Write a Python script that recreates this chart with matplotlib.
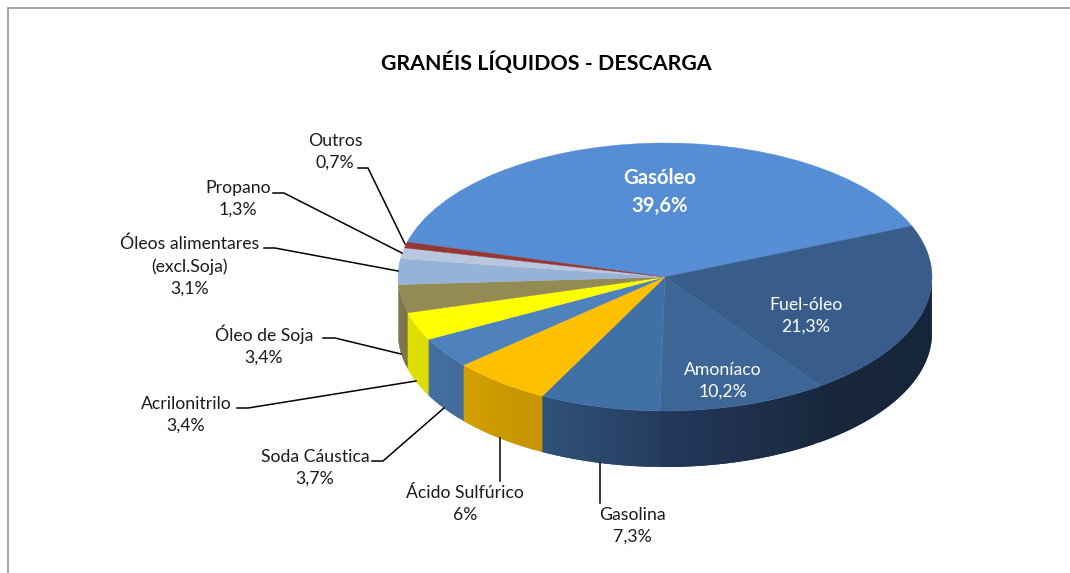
import numpy as np
import matplotlib.pyplot as plt
from matplotlib.colors import to_rgb
from matplotlib.lines import Line2D
from matplotlib.patches import Rectangle

plt.rcParams['font.family'] = ['Lato', 'DejaVu Sans']

# Datos
nombres = ["Gasóleo", "Fuel-óleo", "Amoníaco", "Gasolina", "Ácido Sulfúrico", "Soda Cáustica",
           "Acrilonitrilo", "Óleo de Soja", "Óleos alimentares\n(excl.Soja)", "Propano", "Outros"]
valores = [39.6, 21.3, 10.2, 7.3, 6.0, 3.7, 3.4, 3.4, 3.1, 1.3, 0.7]
textos = ["39,6%", "21,3%", "10,2%", "7,3%", "6%", "3,7%", "3,4%", "3,4%", "3,1%", "1,3%", "0,7%"]

# Colores: tapa y pared (inicio, fin)
tapa = ["#558ed5", "#385d8a", "#3d6596", "#4170a6", "#ffc000", "#4f81bd",
        "#ffff00", "#948a54", "#95b3d7", "#b9c7de", "#953735"]
pared = [("#558ed5", "#558ed5"), ("#17263b", "#16263a"), ("#25385c", "#18283e"), ("#2f5279", "#263c5e"),
         ("#d2a000", "#c49400"), ("#44709f", "#426a9a"), ("#e0e000", "#dcdc00"), ("#857a4c", "#7d7347"),
         ("#95b3d7", "#95b3d7"), ("#b9c7de", "#b9c7de"), ("#953735", "#953735")]

# Geometria en pixeles
W, H = 1070, 573
cx, cy = 665, 277
a, b = 267, 134
prof = 56 / b
inicio = 164.9


def px(x, y):
    return x / W, 1 - y / H


fig = plt.figure(figsize=(W / 100, H / 100), dpi=100)
fig.patch.set_facecolor("white")
ax = fig.add_axes([0, 0, 1, 1])

# Pared lateral (solo la mitad de abajo)
angulos = inicio - np.cumsum([0] + valores) / sum(valores) * 360
for i in range(len(valores)):
    t1 = min(angulos[i], 0)
    t2 = max(angulos[i + 1], -180)
    if t1 <= t2:
        continue
    n = max(int((t1 - t2) / 1.5), 1)
    bordes = np.linspace(t1, t2, n + 1)
    c0, c1 = np.array(to_rgb(pared[i][0])), np.array(to_rgb(pared[i][1]))
    for j in range(n):
        # cada tira se mete bajo la siguiente, asi no quedan rayas
        fin = bordes[j + 2] if j + 2 <= n else max(t2 - 0.5, -180)
        th = np.radians(np.linspace(bordes[j], fin, 8))
        xs = np.cos(th)
        ys = np.sin(th)
        k = 1 - (j + 0.5) / n  # el color va de izquierda a derecha
        color = c0 + (c1 - c0) * k
        ax.fill(np.r_[xs, xs[::-1]], np.r_[ys, ys[::-1] - prof], color=color, lw=0, zorder=1)

wedges, _ = ax.pie(valores, colors=tapa, startangle=inicio, counterclock=False, radius=1)
for w in wedges:
    w.set_edgecolor(w.get_facecolor())
    w.set_linewidth(0.3)
    w.set_zorder(2)
ax.set_aspect("auto")
ax.set_xlim((0 - cx) / a, (W - cx) / a)
ax.set_ylim((cy - H) / b, cy / b)
ax.axis("off")

# Marco
fig.add_artist(Rectangle(px(8, 620), 1200 / W, 612 / H, transform=fig.transFigure, fill=False,
                         ec="#8c8c8c", lw=1.1))

# Titulo
x, y = px(546, 63)
fig.text(x, y, "GRANÉIS LÍQUIDOS - DESCARGA", fontsize=15.4, fontweight="bold", ha="center", va="center",
         color="black")

# Etiquetas (centro en pixeles)
pos_etiquetas = [(660, 192), (806, 316), (723, 381), (632, 526), (465, 504), (315, 468),
                 (186, 415), (264, 345), (190, 266), (238, 199), (335, 152)]
for i in range(len(nombres)):
    x, y = px(*pos_etiquetas[i])
    color = "white" if i < 3 else "#1a1a1a"
    peso = "bold" if i == 0 else "normal"
    tam = 14.6 if i == 0 else 12.7
    fig.text(x, y, nombres[i] + "\n" + textos[i], fontsize=tam, color=color, fontweight=peso,
             ha="center", va="center", linespacing=1.48)

# Lineas guia
guias = [[(600, 463), (600, 503)],
         [(500, 438), (500, 481)],
         [(372, 461), (383, 461), (444, 408)],
         [(237, 408), (248, 408), (416, 381)],
         [(323, 338), (335, 338), (401, 354)],
         [(264, 248), (275, 248), (398, 271)],
         [(273, 193), (284, 193), (402, 253)],
         [(358, 168), (368, 168), (405, 244)]]
for g in guias:
    pts = [px(*p) for p in g]
    fig.add_artist(Line2D([p[0] for p in pts], [p[1] for p in pts], color="black", lw=1.1,
                          transform=fig.transFigure))

plt.savefig("out.png", dpi=100)
